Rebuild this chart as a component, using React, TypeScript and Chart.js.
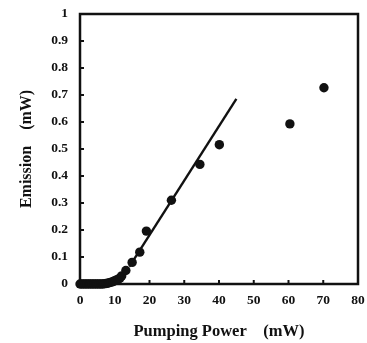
import { useEffect, useRef } from 'react';
import { Chart, registerables } from 'chart.js';
Chart.register(...registerables);

const pumpPower = [0, 0.5, 1, 1.5, 2, 2.5, 3, 3.5, 4, 4.5, 5, 5.5, 6, 6.5, 7, 7.5, 8, 8.5, 9, 9.5, 10, 10.5, 11, 11.5, 12, 13.2, 15, 17.2, 19.1, 26.3, 34.5, 40.1, 60.4, 70.2];
const emission = [0, 0, 0, 0, 0, 0, 0, 0, 0, 0, 0, 0, 0, 0, 0.001, 0.002, 0.003, 0.005, 0.007, 0.009, 0.012, 0.015, 0.018, 0.022, 0.03, 0.05, 0.08, 0.118, 0.196, 0.31, 0.443, 0.516, 0.593, 0.727];
const fitPower = [14.2, 45];
const fitEmission = [0.064, 0.686];
const xTicks = [0, 10, 20, 30, 40, 50, 60, 70, 80];
const yTicks = [0, 0.1, 0.2, 0.3, 0.4, 0.5, 0.6, 0.7, 0.8, 0.9, 1];
const xTitle = 'Pumping Power\u00a0\u00a0\u00a0\u00a0(mW)';
const yTitle = 'Emission\u00a0\u00a0\u00a0\u00a0(mW)';

export default function App() {
  const ref = useRef<HTMLCanvasElement>(null);
  useEffect(() => {
    document.body.style.margin = '0';
    const family = '"Liberation Serif", "Times New Roman", serif';
    const frame = {
      id: 'frame',
      beforeDatasetsDraw(chart: any) {
        const { ctx, chartArea: a, scales } = chart;
        ctx.save();
        ctx.strokeStyle = '#111';
        ctx.lineWidth = 2.5;
        ctx.strokeRect(a.left, a.top, a.right - a.left, a.bottom - a.top);
        ctx.lineWidth = 2;
        xTicks.forEach((v) => {
          const px = scales.x.getPixelForValue(v);
          ctx.beginPath();
          ctx.moveTo(px, a.bottom);
          ctx.lineTo(px, a.bottom - 4);
          ctx.stroke();
        });
        yTicks.forEach((v) => {
          const py = scales.y.getPixelForValue(v);
          ctx.beginPath();
          ctx.moveTo(a.left, py);
          ctx.lineTo(a.left + 4, py);
          ctx.stroke();
        });
        ctx.restore();
      },
    };
    const chart = new Chart(ref.current!, {
      type: 'scatter',
      data: {
        datasets: [
          {
            data: pumpPower.map((x, i) => ({ x, y: emission[i] })),
            backgroundColor: '#111',
            borderColor: '#111',
            pointRadius: 4.7,
            pointBorderWidth: 0,
            showLine: false,
            clip: false as any,
          },
          {
            data: fitPower.map((x, i) => ({ x, y: fitEmission[i] })),
            borderColor: '#111',
            borderWidth: 2.4,
            pointRadius: 0,
            showLine: true,
          },
        ],
      },
      plugins: [frame],
      options: {
        responsive: false,
        animation: false,
        devicePixelRatio: 1,
        layout: { padding: { left: 17, right: 9, top: 14, bottom: 1 } },
        plugins: { legend: { display: false }, tooltip: { enabled: false } },
        scales: {
          x: {
            type: 'linear',
            min: 0,
            max: 80,
            afterBuildTicks: (s: any) => { s.ticks = xTicks.map((value) => ({ value })); },
            afterFit: (s: any) => { s.height = 58; s.paddingLeft = 0; s.paddingRight = 0; },
            grid: { display: false, drawTicks: false },
            border: { display: false },
            ticks: { color: '#111', padding: 8, font: { family, size: 13.5, weight: 'bold' } },
            title: { display: true, text: xTitle, color: '#111', padding: 0, font: { family, size: 16.5, weight: 'bold' } },
          },
          y: {
            type: 'linear',
            min: 0,
            max: 1,
            afterBuildTicks: (s: any) => { s.ticks = yTicks.map((value) => ({ value })); },
            afterFit: (s: any) => { s.width = 63; s.paddingTop = 0; s.paddingBottom = 0; },
            grid: { display: false, drawTicks: false },
            border: { display: false },
            ticks: {
              color: '#111',
              padding: 12,
              font: { family, size: 13.5, weight: 'bold' },
              callback: (v: any) => String(Number(Number(v).toFixed(1))),
            },
            title: { display: true, text: yTitle, color: '#111', padding: 0, font: { family, size: 16, weight: 'bold' } },
          },
        },
      },
    });
    return () => chart.destroy();
  }, []);
  return (
    <div style={{ position: 'absolute', left: 0, top: 0, width: 367, height: 343, background: '#fff' }}>
      <canvas ref={ref} width={367} height={343} />
    </div>
  );
}
